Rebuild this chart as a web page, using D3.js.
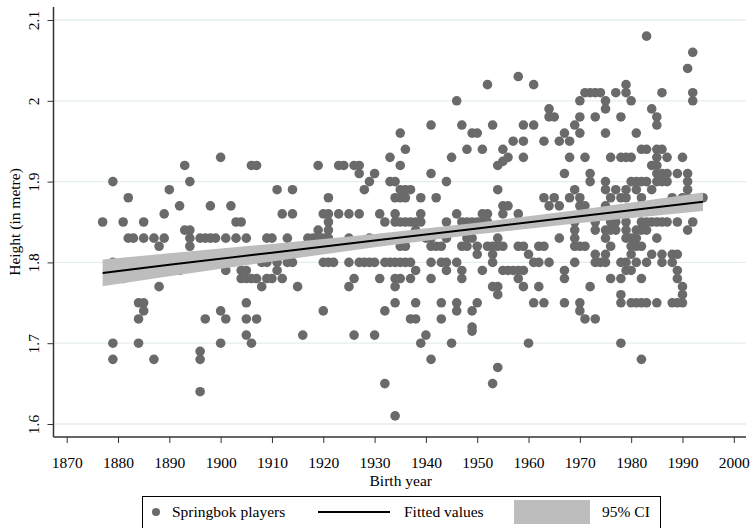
<!DOCTYPE html>
<html>
<head>
<meta charset="utf-8">
<script src="https://cdn.jsdelivr.net/npm/d3@7"></script>
<style>
  body { margin: 0; background: #fff; }
  svg { font-family: "Liberation Serif", "Times New Roman", serif; }
</style>
</head>
<body>
<div id="chart"></div>
<script>
// players as [birth year, height in metre], grouped by decade
var players1870s = [
  [1877,1.85],[1879,1.90],[1879,1.80],[1879,1.70],[1879,1.68],[1881,1.85],[1881,1.78],
  [1882,1.88],[1882,1.83],[1882,1.80],[1883,1.83],[1884,1.75],[1884,1.73],[1884,1.70],
  [1885,1.85],[1885,1.83],[1885,1.75],[1885,1.74],[1887,1.83],[1887,1.68],[1888,1.82],
  [1888,1.77],[1889,1.86],[1889,1.83]
];
var players1890s = [
  [1890,1.89],[1892,1.87],[1892,1.79],[1893,1.92],[1893,1.84],[1894,1.90],[1894,1.84],
  [1894,1.83],[1894,1.82],[1896,1.83],[1896,1.69],[1896,1.68],[1896,1.64],[1897,1.83],
  [1897,1.73],[1898,1.87],[1898,1.83],[1899,1.83]
];
var players1900s = [
  [1900,1.93],[1900,1.74],[1900,1.70],[1901,1.83],[1901,1.79],[1901,1.73],[1902,1.87],
  [1903,1.85],[1903,1.83],[1904,1.85],[1904,1.79],[1904,1.78],[1905,1.83],[1905,1.79],
  [1905,1.78],[1905,1.75],[1905,1.73],[1905,1.71],[1906,1.92],[1906,1.78],[1906,1.70],
  [1907,1.92],[1907,1.78],[1907,1.73],[1908,1.80],[1908,1.77],[1909,1.83],[1909,1.80],
  [1909,1.78]
];
var players1910s = [
  [1910,1.83],[1910,1.78],[1911,1.89],[1911,1.80],[1911,1.79],[1912,1.86],[1912,1.78],
  [1913,1.83],[1913,1.80],[1914,1.89],[1914,1.86],[1914,1.80],[1915,1.77],[1916,1.71],
  [1917,1.83],[1918,1.83],[1919,1.92],[1919,1.84],[1919,1.83]
];
var players1920s = [
  [1920,1.86],[1920,1.83],[1920,1.80],[1920,1.74],[1921,1.88],[1921,1.86],[1921,1.85],
  [1921,1.84],[1921,1.83],[1921,1.80],[1922,1.80],[1923,1.92],[1923,1.86],[1924,1.92],
  [1925,1.86],[1925,1.83],[1925,1.80],[1925,1.77],[1926,1.92],[1926,1.78],[1926,1.71],
  [1927,1.92],[1927,1.91],[1927,1.86],[1927,1.80],[1928,1.89],[1928,1.80],[1929,1.90],
  [1929,1.83],[1929,1.80]
];
var players1930s = [
  [1930,1.91],[1930,1.80],[1930,1.71],[1931,1.86],[1931,1.78],[1932,1.85],[1932,1.80],
  [1932,1.74],[1932,1.65],[1933,1.93],[1933,1.90],[1933,1.80],[1934,1.90],[1934,1.88],
  [1934,1.86],[1934,1.85],[1934,1.80],[1934,1.78],[1934,1.77],[1934,1.75],[1934,1.61],
  [1935,1.96],[1935,1.92],[1935,1.89],[1935,1.88],[1935,1.85],[1935,1.82],[1935,1.80],
  [1935,1.78],[1936,1.94],[1936,1.89],[1936,1.88],[1936,1.85],[1936,1.82],[1936,1.80],
  [1937,1.89],[1937,1.85],[1937,1.80],[1937,1.78],[1937,1.73],[1938,1.85],[1938,1.84],
  [1938,1.79],[1938,1.75],[1938,1.73],[1939,1.88],[1939,1.86],[1939,1.85],[1939,1.70]
];
var players1940s = [
  [1940,1.83],[1940,1.71],[1941,1.97],[1941,1.91],[1941,1.83],[1941,1.82],[1941,1.80],
  [1941,1.78],[1941,1.68],[1942,1.88],[1942,1.82],[1943,1.82],[1943,1.80],[1943,1.75],
  [1943,1.73],[1944,1.90],[1944,1.85],[1944,1.83],[1944,1.80],[1944,1.79],[1945,1.93],
  [1945,1.70],[1946,2.00],[1946,1.86],[1946,1.80],[1946,1.75],[1946,1.74],[1947,1.97],
  [1947,1.85],[1947,1.82],[1947,1.79],[1947,1.78],[1948,1.94],[1948,1.85],[1948,1.83],
  [1948,1.82],[1949,1.96],[1949,1.85],[1949,1.83],[1949,1.74],[1949,1.72],[1949,1.715]
];
var players1950s = [
  [1950,1.96],[1950,1.85],[1950,1.82],[1950,1.81],[1950,1.75],[1951,1.94],[1951,1.86],
  [1951,1.85],[1951,1.79],[1952,2.02],[1952,1.86],[1952,1.85],[1952,1.82],[1953,1.97],
  [1953,1.82],[1953,1.81],[1953,1.80],[1953,1.77],[1953,1.65],[1954,1.92],[1954,1.89],
  [1954,1.83],[1954,1.82],[1954,1.77],[1954,1.76],[1954,1.67],[1955,1.94],[1955,1.925],
  [1955,1.87],[1955,1.86],[1955,1.82],[1955,1.79],[1956,1.93],[1956,1.87],[1956,1.79],
  [1957,1.95],[1957,1.79],[1958,2.03],[1958,1.86],[1958,1.82],[1958,1.79],[1958,1.78],
  [1959,1.97],[1959,1.95],[1959,1.93],[1959,1.82],[1959,1.79],[1959,1.77]
];
var players1960s = [
  [1960,1.81],[1960,1.70],[1961,2.02],[1961,1.97],[1961,1.80],[1961,1.75],[1962,1.82],
  [1962,1.80],[1962,1.77],[1963,1.95],[1963,1.88],[1963,1.82],[1963,1.75],[1964,1.99],
  [1964,1.98],[1964,1.87],[1964,1.80],[1965,1.98],[1965,1.88],[1966,1.95],[1966,1.87],
  [1966,1.83],[1967,1.96],[1967,1.91],[1967,1.79],[1967,1.78],[1967,1.75],[1968,1.95],
  [1968,1.93],[1968,1.88],[1969,1.97],[1969,1.89],[1969,1.85],[1969,1.84],[1969,1.83],
  [1969,1.82],[1969,1.80]
];
var players1970s = [
  [1970,2.00],[1970,1.98],[1970,1.96],[1970,1.88],[1970,1.87],[1970,1.82],[1970,1.75],
  [1970,1.74],[1971,2.01],[1971,1.93],[1971,1.87],[1971,1.82],[1971,1.73],[1972,2.01],
  [1972,1.91],[1972,1.90],[1972,1.77],[1973,2.01],[1973,1.98],[1973,1.85],[1973,1.84],
  [1973,1.81],[1973,1.80],[1973,1.73],[1974,2.01],[1974,1.80],[1975,2.00],[1975,1.99],
  [1975,1.96],[1975,1.90],[1975,1.89],[1975,1.87],[1975,1.84],[1975,1.83],[1975,1.81],
  [1975,1.80],[1976,1.93],[1976,1.88],[1976,1.85],[1976,1.84],[1976,1.82],[1976,1.78],
  [1977,2.01],[1977,1.89],[1977,1.85],[1977,1.84],[1978,1.98],[1978,1.93],[1978,1.88],
  [1978,1.80],[1978,1.78],[1978,1.76],[1978,1.75],[1978,1.70],[1979,2.02],[1979,2.01],
  [1979,1.93],[1979,1.89],[1979,1.88],[1979,1.85],[1979,1.84],[1979,1.83],[1979,1.80],
  [1979,1.79]
];
var players1980s = [
  [1980,2.00],[1980,1.93],[1980,1.90],[1980,1.83],[1980,1.82],[1980,1.81],[1980,1.79],
  [1980,1.75],[1981,1.96],[1981,1.90],[1981,1.89],[1981,1.84],[1981,1.83],[1981,1.82],
  [1981,1.80],[1981,1.75],[1982,1.94],[1982,1.90],[1982,1.88],[1982,1.85],[1982,1.84],
  [1982,1.82],[1982,1.78],[1982,1.75],[1982,1.68],[1983,2.08],[1983,1.94],[1983,1.90],
  [1983,1.85],[1983,1.84],[1983,1.80],[1983,1.75],[1984,1.99],[1984,1.92],[1984,1.89],
  [1984,1.85],[1984,1.81],[1985,1.98],[1985,1.97],[1985,1.94],[1985,1.93],[1985,1.92],
  [1985,1.91],[1985,1.90],[1985,1.85],[1985,1.83],[1985,1.75],[1986,2.01],[1986,1.94],
  [1986,1.91],[1986,1.90],[1986,1.85],[1986,1.81],[1986,1.80],[1987,1.93],[1987,1.91],
  [1987,1.90],[1987,1.85],[1988,1.88],[1988,1.81],[1988,1.80],[1988,1.75],[1989,1.91],
  [1989,1.85],[1989,1.81],[1989,1.79],[1989,1.78],[1989,1.75]
];
var players1990s = [
  [1990,1.93],[1990,1.88],[1990,1.77],[1990,1.76],[1990,1.75],[1991,2.04],[1991,1.91],
  [1991,1.90],[1991,1.89],[1991,1.88],[1991,1.84],[1992,2.06],[1992,2.01],[1992,2.00],
  [1992,1.85],[1994,1.88]
];

// fitted values and 95% CI
var fitYears   = [1877, 1890, 1910, 1930, 1950, 1970, 1994];
var fitHeights = [1.787, 1.797, 1.812, 1.827, 1.842, 1.857, 1.875];
var ciLow      = [1.7705, 1.7828, 1.8011, 1.8187, 1.8348, 1.8487, 1.8635];
var ciHigh     = [1.8035, 1.8112, 1.8229, 1.8353, 1.8492, 1.8653, 1.8865];

var xTicks = [1870,1880,1890,1900,1910,1920,1930,1940,1950,1960,1970,1980,1990,2000];
var yTicks = [1.6, 1.7, 1.8, 1.9, 2, 2.1];

var legendLabels = ["Springbok players", "Fitted values", "95% CI"];

var width = 752, height = 528;
var fontSize = "15.5px";
var players = [].concat(players1870s, players1890s, players1900s, players1910s,
  players1920s, players1930s, players1940s, players1950s, players1960s,
  players1970s, players1980s, players1990s);

var x = d3.scaleLinear().domain([1870, 2000]).range([66.7, 733.8]);
var y = d3.scaleLinear().domain([1.6, 2.1]).range([424, 20]);

var svg = d3.select("#chart").append("svg")
  .attr("width", width)
  .attr("height", height);

// grid
svg.append("g").selectAll("line")
  .data(yTicks)
  .enter().append("line")
    .attr("x1", 54).attr("x2", 746)
    .attr("y1", function(d) { return y(d); })
    .attr("y2", function(d) { return y(d); })
    .attr("stroke", "#e4eef0")
    .attr("stroke-width", 1.3);

// points
svg.append("g").selectAll("circle")
  .data(players)
  .enter().append("circle")
    .attr("cx", function(d) { return x(d[0]); })
    .attr("cy", function(d) { return y(d[1]); })
    .attr("r", 4.8)
    .attr("fill", "#6a6a6a");

// CI band and fitted line
var band = d3.area()
  .x(function(d, i) { return x(fitYears[i]); })
  .y0(function(d, i) { return y(ciLow[i]); })
  .y1(function(d, i) { return y(ciHigh[i]); });

svg.append("path")
  .attr("d", band(fitYears))
  .attr("fill", "#bdbdbd");

var fitLine = d3.line()
  .x(function(d, i) { return x(fitYears[i]); })
  .y(function(d, i) { return y(fitHeights[i]); });

svg.append("path")
  .attr("d", fitLine(fitYears))
  .attr("fill", "none")
  .attr("stroke", "#000")
  .attr("stroke-width", 2);

// axes
var xAxis = svg.append("g")
  .attr("transform", "translate(0,437)")
  .call(d3.axisBottom(x).tickValues(xTicks).tickSize(6).tickFormat(d3.format("d")));
xAxis.select(".domain").remove();
xAxis.append("line")
  .attr("x1", 53.5).attr("x2", 746).attr("stroke", "#333").attr("stroke-width", 1.5);
xAxis.selectAll(".tick line").attr("stroke", "#333");
xAxis.selectAll("text")
  .attr("y", 20)
  .attr("fill", "#000")
  .style("font-size", fontSize)
  .style("font-family", "Liberation Serif");

var yAxis = svg.append("g")
  .attr("transform", "translate(53.5,0)")
  .call(d3.axisLeft(y).tickValues(yTicks).tickSize(6).tickFormat(function(d) { return String(d); }));
yAxis.select(".domain").remove();
yAxis.append("line")
  .attr("y1", 7).attr("y2", 437).attr("stroke", "#333").attr("stroke-width", 1.5);
yAxis.selectAll(".tick line").attr("stroke", "#333");
yAxis.selectAll("text")
  .attr("transform", "rotate(-90)")
  .attr("x", 0)
  .attr("y", -14.5)
  .attr("dy", 0)
  .attr("text-anchor", "middle")
  .attr("fill", "#000")
  .style("font-size", fontSize)
  .style("font-family", "Liberation Serif");

svg.append("text")
  .attr("x", (x(1870) + x(2000)) / 2 + 0.5)
  .attr("y", 486)
  .attr("text-anchor", "middle")
  .style("font-size", fontSize)
  .text("Birth year");

svg.append("text")
  .attr("transform", "translate(20," + ((7 + 437) / 2) + ") rotate(-90)")
  .attr("text-anchor", "middle")
  .style("font-size", fontSize)
  .text("Height (in metre)");

// legend
var legend = svg.append("g").attr("transform", "translate(142,496)");
legend.append("rect")
  .attr("x", 0.5).attr("y", 0.5)
  .attr("width", 518).attr("height", 40)
  .attr("fill", "#fff")
  .attr("stroke", "#000");
legend.append("circle")
  .attr("cx", 14).attr("cy", 16).attr("r", 4).attr("fill", "#6a6a6a");
legend.append("text")
  .attr("x", 30).attr("y", 21)
  .style("font-size", fontSize)
  .text(legendLabels[0]);
legend.append("line")
  .attr("x1", 176).attr("x2", 248).attr("y1", 16).attr("y2", 16)
  .attr("stroke", "#000").attr("stroke-width", 2);
legend.append("text")
  .attr("x", 262).attr("y", 21)
  .style("font-size", fontSize)
  .text(legendLabels[1]);
legend.append("rect")
  .attr("x", 372).attr("y", 4).attr("width", 76).attr("height", 24)
  .attr("fill", "#bdbdbd");
legend.append("text")
  .attr("x", 460).attr("y", 21)
  .style("font-size", fontSize)
  .text(legendLabels[2]);
</script>
</body>
</html>
